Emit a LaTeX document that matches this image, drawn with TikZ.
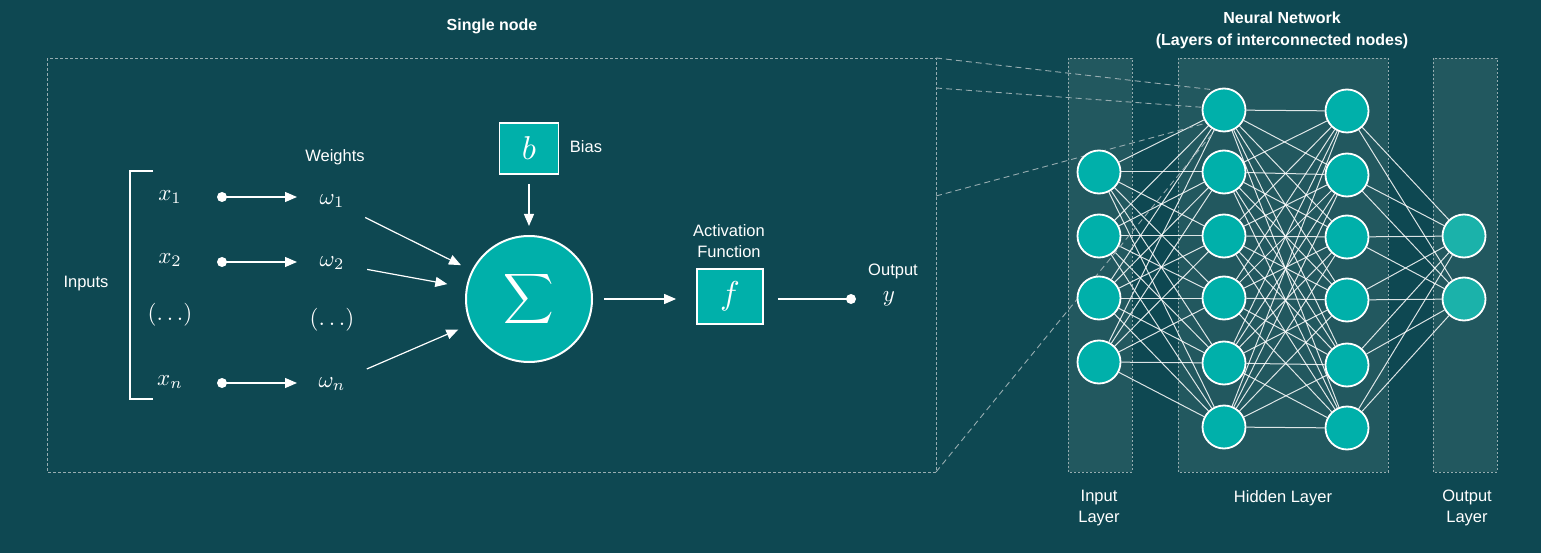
\documentclass[tikz,border=0pt]{standalone}
\usepackage{graphicx}
\usepackage{fontspec}
\setmainfont{Liberation Sans}
\usetikzlibrary{arrows.meta}
\pgfdeclarelayer{back}
\pgfdeclarelayer{mid}
\pgfsetlayers{back,mid,main}
\definecolor{bgc}{RGB}{14,72,82}
\definecolor{panelc}{RGB}{34,88,95}
\definecolor{tealc}{RGB}{0,176,170}
\definecolor{outtealc}{RGB}{27,178,170}
\definecolor{dashgray}{RGB}{150,172,176}
\newcommand{\mbig}[2]{\scalebox{#1}{$#2$}}
\begin{document}
\begin{tikzpicture}[x=1pt,y=-1pt,
  txt/.style={text=white, font=\fontsize{16.5}{21}\selectfont, inner sep=0pt, align=center},
  ttl/.style={text=white, font=\bfseries\fontsize{16}{22}\selectfont, inner sep=0pt, align=center},
  mth/.style={text=white, inner sep=1pt},
  neuron/.style={circle, draw=white, line width=1.8pt, fill=tealc, minimum size=43pt, inner sep=0pt},
  outneuron/.style={neuron, fill=outtealc},
  arr/.style={draw=white, line width=1.2pt, -{Triangle[length=12pt,width=10pt]}},
  plainline/.style={draw=white, line width=1.2pt},
  link/.style={draw=white, line width=1pt, draw opacity=0.85},
  proj/.style={draw=dashgray, line width=0.9pt, dash pattern=on 6pt off 4pt},
  panel/.style={fill=panelc, draw=dashgray, line width=0.8pt, dash pattern=on 2pt off 2pt},
  framebox/.style={draw=dashgray, line width=0.9pt, dash pattern=on 3pt off 2pt},
  dotnode/.style={circle, fill=white, minimum size=10pt, inner sep=0pt},
  mbox/.style={draw=white, line width=1.8pt, fill=tealc, text=white, inner sep=0pt}
]
\useasboundingbox (0,0) rectangle (1541,553);
\begin{pgfonlayer}{back}
\fill[bgc] (0,0) rectangle (1541,553);
\draw[framebox] (47,58) rectangle (936,472);
\path[panel] (1068,58) rectangle (1132,472);
\path[panel] (1178,58) rectangle (1388,472);
\path[panel] (1433,58) rectangle (1497,472);
\end{pgfonlayer}

% titles
\node[ttl] (t1) at (492,26) {Single node};
\node[ttl] (t2) at (1282,30) {Neural Network\\(Layers of interconnected nodes)};

% ---------- single node ----------
\draw[plainline] (153,171) -- (130,171) -- (130,399) -- (153,399);
\node[txt] (inputs) at (86,284) {Inputs};
\node[txt] (weights) at (335,157) {Weights};

\node[mth] (x1) at (170,197) {\mbig{2.3}{x_1}};
\node[mth] (x2) at (170,260) {\mbig{2.3}{x_2}};
\node[mth] (x3) at (170,315) {\mbig{2.3}{(\ldots)}};
\node[mth] (xn) at (170,382) {\mbig{2.3}{x_n}};

\node[mth] (w1) at (332,201) {\mbig{2.3}{\omega_1}};
\node[mth] (w2) at (332,263) {\mbig{2.3}{\omega_2}};
\node[mth] (w3) at (332,320) {\mbig{2.3}{(\ldots)}};
\node[mth] (wn) at (332,384) {\mbig{2.3}{\omega_n}};

\node[dotnode] (d1) at (222,197) {};
\node[dotnode] (d2) at (222,262) {};
\node[dotnode] (dn) at (222,383) {};
\coordinate (e1) at (297,197);
\coordinate (e2) at (297,262);
\coordinate (en) at (297,383);
\draw[arr] (d1.center) -- (e1);
\draw[arr] (d2.center) -- (e2);
\draw[arr] (dn.center) -- (en);

\node[circle, draw=white, line width=2pt, fill=tealc, minimum size=126pt, inner sep=0pt,
      text=white] (sum) at (529,299) {\mbig{3.5}{\displaystyle\sum}};

\node[mbox, minimum width=59pt, minimum height=51pt] (b) at (529,148.5) {\mbig{3.3}{b}};
\node[txt] (bias) at (586,147) {Bias};

\node[mbox, minimum width=66pt, minimum height=55pt] (f) at (730,296.5) {\mbig{3.3}{f}};
\node[txt] (act) at (729,241) {Activation\\Function};

\node[dotnode] (yd) at (851,299) {};
\node[txt] (outl) at (893,271) {Output};
\node[mth] (y) at (889,299) {\mbig{2.3}{y}};

\draw[arr, shorten <=22pt, shorten >=12pt] (w1) -- (sum);
\draw[arr, shorten <=22pt, shorten >=19pt] (w2) -- (sum);
\draw[arr, shorten <=22pt, shorten >=13pt] (wn) -- (sum);
\draw[arr, shorten <=9pt, shorten >=9pt] (b) -- (sum);
\draw[arr, shorten <=11pt, shorten >=20pt] (sum) -- (sum -| f.west);
\draw[plainline, shorten <=14pt] (f.east |- yd.center) -- (yd.center);

% ---------- neural network ----------
\foreach \y [count=\i] in {172,236,298,362} \node[neuron] (i\i) at (1099,\y) {};
\foreach \y [count=\i] in {110,172,236,298,363,427} \node[neuron] (a\i) at (1224,\y) {};
\foreach \y [count=\i] in {111,175,237,300,365,428} \node[neuron] (c\i) at (1347,\y) {};
\foreach \y [count=\i] in {236,299} \node[outneuron] (o\i) at (1464,\y) {};

\coordinate (p1) at (936,58);
\coordinate (p2) at (936,88);
\coordinate (p3) at (936,196);
\coordinate (p4) at (936,472);

\begin{pgfonlayer}{mid}
\foreach \i in {1,...,4} \foreach \j in {1,...,6} \draw[link] (i\i) -- (a\j);
\foreach \i in {1,...,6} \foreach \j in {1,...,6} \draw[link] (a\i) -- (c\j);
\foreach \i in {1,...,6} \foreach \j in {1,2} \draw[link] (c\i) -- (o\j);
\draw[proj] (p1) -- (a1.116);
\draw[proj] (p2) -- (a1.173);
\draw[proj] (p3) -- (a1.216);
\draw[proj] (p4) -- (a1.246);
\end{pgfonlayer}

\node[txt] (il) at (1099,508) {Input\\Layer};
\node[txt] (hl) at (1283,498) {Hidden Layer};
\node[txt] (ol) at (1467,508) {Output\\Layer};
\end{tikzpicture}
\end{document}
